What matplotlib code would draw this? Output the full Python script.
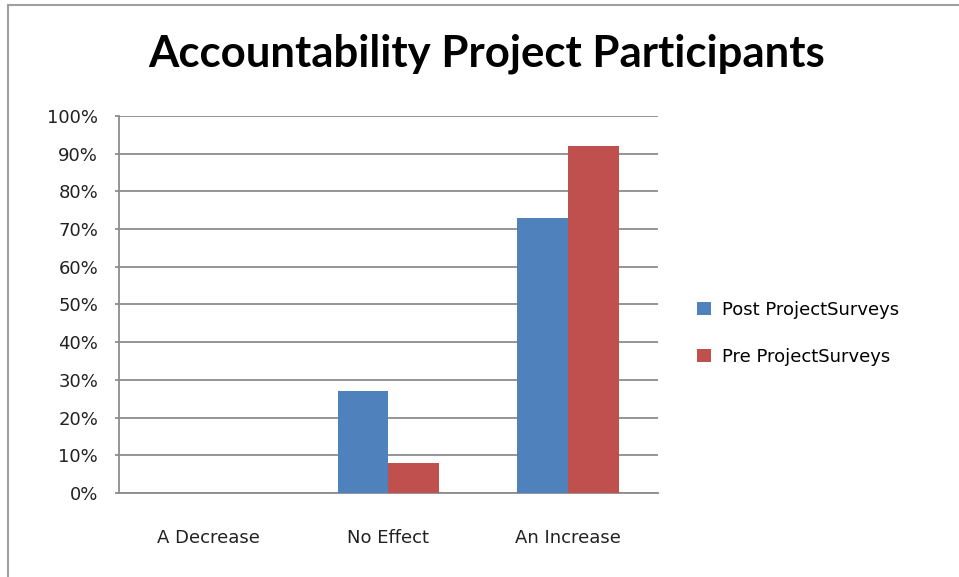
import numpy as np
import matplotlib.pyplot as plt
from matplotlib.lines import Line2D

# data
categories = ['A Decrease', 'No Effect', 'An Increase']
post_survey = [0, 27, 73]
pre_survey = [0, 8, 92]
series_names = ['Post ProjectSurveys', 'Pre ProjectSurveys']
y_ticks = [0, 10, 20, 30, 40, 50, 60, 70, 80, 90, 100]

blue = '#4F81BD'
red = '#C0504D'
grid_c = '#8c8c8c'

fig = plt.figure(figsize=(9.59, 5.77), dpi=100)
ax = fig.add_axes([0.1241, 0.1456, 0.562, 0.6534])

x = np.arange(len(categories))
w = 0.283
ax.bar(x - w / 2, post_survey, w, color=blue, label=series_names[0], zorder=3)
ax.bar(x + w / 2, pre_survey, w, color=red, label=series_names[1], zorder=3)

ax.set_xlim(-0.5, len(categories) - 0.5)
ax.set_ylim(0, 100)
ax.set_yticks(y_ticks)
ax.set_yticklabels([f'{t}%' for t in y_ticks])
ax.set_xticks(x)
ax.set_xticklabels(categories)

ax.yaxis.grid(True, color=grid_c, linewidth=1.3, zorder=0)
ax.set_axisbelow(True)
for s in ['top', 'right']:
    ax.spines[s].set_visible(False)
for s in ['left', 'bottom']:
    ax.spines[s].set_color(grid_c)
    ax.spines[s].set_linewidth(1.3)

ax.tick_params(axis='y', length=3, width=1.3, color=grid_c, pad=12,
               labelsize=13, labelcolor='#222222')
ax.tick_params(axis='x', length=0, pad=26, labelsize=13, labelcolor='#222222')

fig.text(0.507, 0.907, 'Accountability Project Participants', ha='center', va='center',
         fontsize=31.5, fontweight='bold', family='Lato')

ax.legend(loc='center left', bbox_to_anchor=(0.727, 0.422), bbox_transform=fig.transFigure,
          frameon=False, fontsize=13, handlelength=0.75, handleheight=0.75,
          handletextpad=0.6, labelspacing=1.6, borderpad=0, borderaxespad=0)

# outer frame of the chart area
fig.add_artist(Line2D([0.0083, 0.0083], [0, 0.9913], transform=fig.transFigure,
                      color='#a0a0a0', linewidth=1.5))
fig.add_artist(Line2D([0.0083, 1], [0.9913, 0.9913], transform=fig.transFigure,
                      color='#a0a0a0', linewidth=1.5))

fig.savefig('out.png', dpi=100)
